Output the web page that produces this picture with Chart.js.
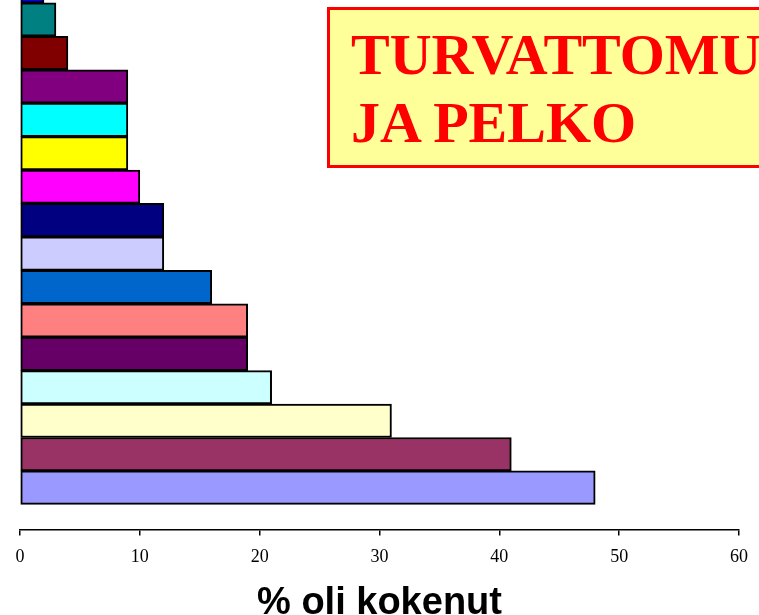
<!DOCTYPE html>
<html>
<head>
<meta charset="utf-8">
<script src="https://cdn.jsdelivr.net/npm/chart.js@4.4.1/dist/chart.umd.min.js"></script>
<style>
    body { margin: 0; overflow: hidden; background: #fff; }
    #wrap { position: relative; width: 759px; height: 615px; overflow: hidden; }
    #chart { position: absolute; left: 0; top: 0; }
    .title-box {
        position: absolute;
        left: 327px;
        top: 7px;
        width: 520px;
        height: 144px;
        padding: 11px 0 0 21px;
        border: 3px solid #ff0000;
        background: #ffff99;
        color: #ff0000;
        font: bold 58px "Liberation Serif", "Times New Roman", serif;
        line-height: 68px;
        white-space: nowrap;
    }
</style>
</head>
<body>
<div id="wrap">
    <canvas id="chart" width="759" height="623"></canvas>
    <div class="title-box">TURVATTOMUUS<br>JA PELKO</div>
</div>
<script>
// bars listed from bottom to top
const values = [48, 41, 31, 21, 19, 19, 16, 12, 12, 10, 9, 9, 9, 4, 3, 2];
const barColors = ['#9999ff', '#993366', '#ffffcc', '#ccffff', '#660066', '#ff8080', '#0066cc', '#ccccff',
                   '#000080', '#ff00ff', '#ffff00', '#00ffff', '#800080', '#800000', '#008080', '#0000ff'];
const xMin = 0, xMax = 60, xStep = 10;
const xTitle = '% oli kokenut';

document.addEventListener('DOMContentLoaded', function() {
    const points = values.map((v, i) => ({ x: v, y: i }));

    new Chart(document.getElementById('chart'), {
        type: 'bar',
        data: {
            datasets: [{
                data: points,
                backgroundColor: barColors,
                borderColor: '#000000',
                borderWidth: 2,
                borderSkipped: false,
                barThickness: 'flex',
                barPercentage: 1,
                categoryPercentage: 1
            }]
        },
        options: {
            indexAxis: 'y',
            responsive: false,
            animation: false,
            layout: { padding: { left: 20, right: 10, top: 0, bottom: 0 } },
            plugins: { legend: { display: false }, tooltip: { enabled: false } },
            scales: {
                y: {
                    type: 'linear',
                    display: false,
                    offset: false,
                    min: -1.25,
                    max: 14.585
                },
                x: {
                    type: 'linear',
                    min: xMin,
                    max: xMax,
                    grid: { drawOnChartArea: false, drawTicks: true, tickLength: 6, color: '#000000', lineWidth: 1.5 },
                    border: { color: '#000000', width: 1.5 },
                    ticks: {
                        stepSize: xStep,
                        padding: 11,
                        color: '#000000',
                        font: { family: '"Liberation Serif", serif', size: 18 }
                    },
                    title: {
                        display: true,
                        text: xTitle,
                        color: '#000000',
                        padding: { top: 6, bottom: 0 },
                        font: { family: '"Liberation Sans", Arial, sans-serif', size: 38, weight: 'bold', lineHeight: 1 }
                    }
                }
            }
        }
    });
});
</script>
</body>
</html>
